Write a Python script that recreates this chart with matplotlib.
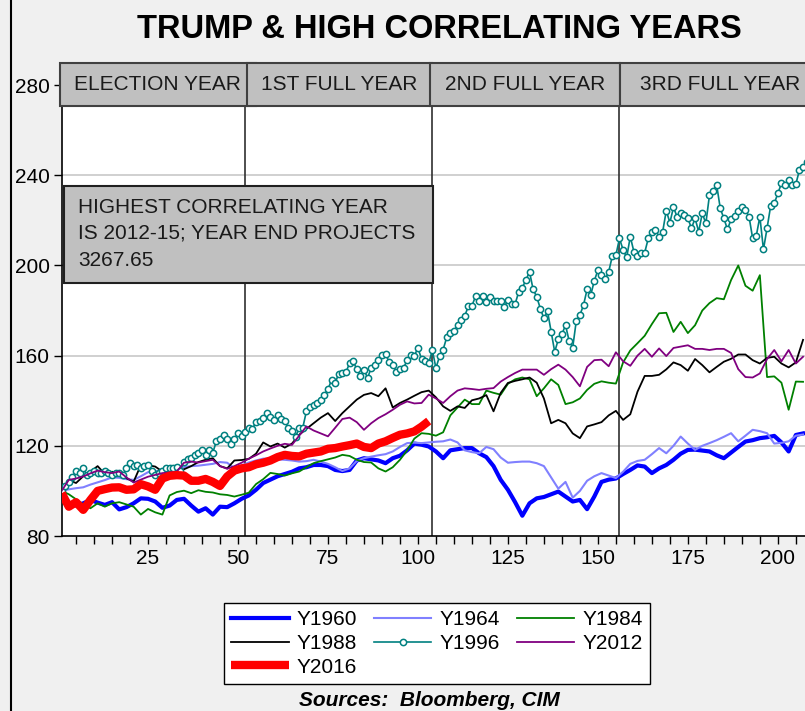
import matplotlib
matplotlib.use("Agg")
import matplotlib.pyplot as plt
from matplotlib.patches import Rectangle
from matplotlib.lines import Line2D
from matplotlib.ticker import MultipleLocator

plt.rcParams['font.family'] = ['Liberation Sans', 'DejaVu Sans']

# ---------------- data ----------------
weeks_2 = list(range(1, 209, 2))          # sampling every 2 weeks
weeks_1996 = list(range(1, 209))          # weekly for Y1996
weeks_2016 = list(range(1, 105, 2))

y1960 = [100, 94.5, 93.5, 94.5, 96, 94.8, 93.8, 95, 91.8, 92.8, 94.5, 96.7, 96.5, 95.3, 92.5, 93.5,
         96, 96.5, 93.5, 90.8, 92.3, 89.5, 93, 92.8, 94.5, 96.5, 98, 100.5, 103.5, 105, 106.5, 107.5,
         108.5, 110, 110.5, 111.5, 111.5, 111, 109.3, 108.8, 109.3, 113.5, 114.5, 114, 113.5, 112.3,
         114.5, 115.6, 118, 121, 120.5, 119.7, 117.5, 114.5, 118, 118.5, 119, 119, 116.7, 115, 111,
         104.9, 100.5, 95, 89, 94.5, 96.7, 97.3, 98.5, 99.7, 97.5, 95.3, 96, 91.9, 97.5, 104, 105,
         105.5, 107.5, 109.3, 111.3, 110.8, 107.9, 110, 111.5, 113.8, 116.5, 118.2, 118.3, 117.9,
         117.5, 115.8, 114.5, 117, 119.5, 121.9, 122.5, 123.4, 123.8, 124.4, 121.5, 117.5, 124.8, 125.5]

y1964 = [100, 100.7, 101.2, 101.6, 102.8, 103.8, 104.8, 106, 105.8, 105.2, 104.9, 106.5, 108.3, 108.8,
         109, 109.5, 110, 110.6, 111, 111.2, 111.6, 112, 112.8, 112.5, 110, 111.3, 112.6, 113.5, 114.3,
         114.3, 114, 113.8, 113.5, 113, 113.2, 113.8, 113, 112, 110.5, 108.8, 110, 113.3, 114.5, 115.2,
         115.8, 116.3, 117.5, 119.5, 121.2, 121.4, 121.2, 121.5, 121.8, 122, 122.8, 121.5, 118, 117.2,
         116.7, 119.5, 118.5, 114.8, 112.5, 112.8, 113, 113, 112.3, 111, 106, 101, 104, 97, 100, 104.5,
         106.5, 107.9, 106.8, 105.7, 108.5, 112, 113.3, 113.8, 116.3, 119, 116.7, 120, 124.1, 121,
         118.2, 120, 121.2, 122.5, 124, 125.6, 122, 124.5, 127.1, 126.5, 125.6, 121, 121.3, 122, 124.5, 125]

y1984 = [100, 98.5, 96.3, 94, 92.3, 94.5, 93, 94.5, 95, 94, 93, 89.5, 92, 90.5, 89.5, 98, 99.5, 100.1,
         99, 100.3, 99.6, 99.3, 98.5, 98.2, 97.5, 98.3, 99.2, 103, 105.2, 108, 107.5, 106.8, 107.8,
         108.6, 110.5, 112.3, 113.2, 114, 114.8, 116, 115.5, 113.8, 112.8, 112.6, 110, 108.6, 110.5,
         113.8, 118, 123.2, 125.6, 125.3, 124.5, 126, 133.5, 137, 140.5, 138.5, 138.5, 144.5, 143.5,
         142.7, 147.5, 149.5, 150.3, 149.5, 142, 145.5, 149.5, 147, 138.5, 139.3, 141, 144.8, 147.5,
         148.6, 148, 147.6, 157, 162.3, 165.5, 168.8, 174, 178.8, 179, 170.5, 175, 170, 173.5, 180,
         183.3, 185.5, 185, 193.5, 200, 191, 188.8, 195.7, 150.5, 150.8, 148, 136, 148.5, 148.4]

y1988 = [100, 104.8, 103.5, 106.5, 108.5, 111, 107.5, 108.5, 108, 105.6, 104.1, 111.4, 111.4, 110.8,
         108.6, 109.1, 109.4, 109.6, 111, 112.8, 113.8, 114.5, 111, 110, 113.5, 113.7, 114.2, 116.5,
         121.5, 119.7, 121, 119.2, 121, 124.9, 127.5, 130, 132.5, 134.5, 131, 134.5, 137.5, 140.5,
         142.6, 143.4, 142, 145.5, 137, 139, 140.5, 142.2, 143.8, 144.5, 141.5, 137.5, 135.5, 137.5,
         136.8, 140.2, 141, 142.5, 135.3, 143.5, 147.9, 148.8, 149.5, 150.3, 148, 141, 130, 131.5, 130,
         125.5, 123.4, 128.6, 129.5, 130.5, 133.5, 135.5, 131.5, 134, 144, 151, 151, 151.5, 153.9, 157,
         155.8, 153.3, 158.5, 155.8, 152.6, 155, 157.3, 158.6, 160.5, 160.5, 158, 156.5, 159, 159.5,
         156.5, 154.8, 157, 167]

y1996 = [100, 102, 104, 106, 109, 108, 110, 107, 108, 109, 108, 108, 109, 108, 107, 108, 108, 107, 110,
         112.5, 111, 111.5, 110, 111, 111.5, 109, 107, 108, 109, 110, 110, 110, 110.5, 109, 113, 114,
         114.5, 116, 117, 118, 116, 118, 117, 122, 123, 125, 123, 121, 123, 125.5, 124.5, 126, 128,
         127.5, 130.5, 131, 132.5, 134.5, 133, 131.5, 133.8, 132, 130.8, 128, 126.4, 124, 127.9, 128,
         135.3, 137, 138.2, 139, 140.4, 142.7, 145, 149.3, 147.9, 152, 152.3, 152.6, 156.7, 157.5, 154,
         150.8, 153.8, 150.1, 154.5, 156, 158.2, 160.5, 160.9, 157, 156, 152.6, 154, 154.5, 158, 160.4,
         160, 163.4, 158.5, 157.5, 156.7, 162.4, 154.5, 159.7, 162.7, 168.1, 170.1, 171, 173.5, 175.8,
         177.5, 182, 182, 186.4, 184.3, 186.4, 183.9, 186.1, 184.2, 184.2, 184.2, 181.4, 184.9, 182.9,
         182.9, 188.3, 190.2, 193.5, 197.2, 189.4, 186.1, 180.9, 176.5, 179.7, 170.6, 161.7, 167.2,
         169.5, 173.5, 166.6, 163.6, 175.5, 178, 182.4, 189.4, 186.8, 193.2, 197.9, 195.7, 193.8, 197.2,
         204.1, 204.6, 212, 206.9, 203.6, 212.8, 206.1, 204.2, 205.7, 205.7, 212, 215, 215.7, 212.8, 215,
         224.3, 219, 225.8, 221.6, 223.4, 222.4, 220.9, 216.5, 220.9, 215, 223.1, 218.7, 231.2, 233.2,
         235.7, 225.3, 220.9, 216, 220.4, 221.9, 224.3, 225.8, 224.6, 221.6, 212, 213.1, 221.6, 207.1,
         216.5, 226.4, 227.5, 232, 236.4, 235.7, 237.9, 235.7, 236.1, 242.3, 243.8, 246]

y2012 = [100, 104.9, 105.5, 106.4, 107.8, 109, 108.3, 107.9, 108.6, 106, 103.7, 105, 106.3, 107.1, 107.9,
         108.2, 108.6, 112.5, 113, 112.6, 113.2, 113.8, 111, 109.8, 111, 112.5, 114.3, 115.8, 117.5,
         118.8, 120, 120.9, 120.4, 124.5, 128.6, 126.8, 125.5, 124.2, 128, 131.9, 132.5, 130.5, 127.1,
         130, 132.3, 134, 136, 138.2, 139.7, 138.8, 139, 142.7, 141, 139, 142, 144.5, 145.5, 145.2,
         144.8, 145.3, 145.6, 148.5, 150.5, 152.3, 153.8, 153.8, 153.8, 151.5, 154, 156, 153.8, 150.5,
         146.4, 155, 158, 158.2, 155.3, 161.5, 157.5, 155.5, 160, 163, 159.5, 163.2, 159.8, 163.4, 164,
         164.6, 163, 163, 162.5, 163, 163, 161.2, 154, 150.5, 150.3, 152.1, 158.5, 162.5, 157.5, 162.5,
         156.5, 159.5]

y2016 = [99, 93, 95, 91.6, 96, 100, 100.8, 101.5, 101.6, 100.5, 100.7, 103, 102, 100.5, 105.5, 106.7,
         107, 106.8, 104.5, 104.5, 105.3, 104, 102.2, 106.4, 109, 110, 110.5, 111.8, 112.5, 113.5, 115,
         116, 115.5, 115.3, 116.5, 117, 117.5, 118.7, 119, 119.7, 120.3, 121, 119.5, 119, 121, 122,
         123.5, 124.9, 125.5, 126.4, 128.5, 131]

period_labels = ["ELECTION YEAR", "1ST FULL YEAR", "2ND FULL YEAR", "3RD FULL YEAR"]
period_bounds = [52, 104, 156]
note_lines = ["HIGHEST CORRELATING YEAR", "IS 2012-15; YEAR END PROJECTS", "3267.65"]
title = "TRUMP & HIGH CORRELATING YEARS"
source = "Sources:  Bloomberg, CIM"

# ---------------- figure ----------------
W, H = 805, 711
fig = plt.figure(figsize=(W / 100, H / 100), dpi=100, facecolor='#f0f0f0')
ax_left, ax_right, ax_bot, ax_top = 62, 816, 536, 63
ax = fig.add_axes([ax_left / W, 1 - ax_bot / H, (ax_right - ax_left) / W, (ax_bot - ax_top) / H])
ax.set_facecolor('white')
ax.set_xlim(1.1, 210.6)
ax.set_ylim(80, 289.8)

for s in ['top', 'right']:
    ax.spines[s].set_visible(False)
for s in ['left', 'bottom']:
    ax.spines[s].set_linewidth(1.2)
    ax.spines[s].set_color('black')

ax.set_yticks([80, 120, 160, 200, 240, 280])
ax.xaxis.set_major_locator(MultipleLocator(25))
ax.xaxis.set_minor_locator(MultipleLocator(5))
ax.set_xticks([25, 50, 75, 100, 125, 150, 175, 200])
ax.tick_params(axis='both', which='both', direction='out', length=6, width=1, labelsize=15, pad=3)
ax.tick_params(axis='x', which='minor', length=6)
for gy in [120, 160, 200, 240]:
    ax.axhline(gy, color='#c8c8c8', lw=1.2, zorder=0.5)

# series
ax.plot(weeks_2, y1960, color='#0000ff', lw=3.0, label='Y1960', zorder=3)
ax.plot(weeks_2, y1964, color='#8080ff', lw=1.5, label='Y1964', zorder=3)
ax.plot(weeks_2, y1984, color='#008000', lw=1.3, label='Y1984', zorder=3)
ax.plot(weeks_2, y1988, color='black', lw=1.3, label='Y1988', zorder=3)
ax.plot(weeks_1996, y1996, color='#008080', lw=1.2, marker='o', ms=4.5, mfc='white', mec='#008080',
        mew=1.1, label='Y1996', zorder=3)
ax.plot(weeks_2, y2012, color='#800080', lw=1.3, label='Y2012', zorder=3)
ax.plot(weeks_2016, y2016, color='#ff0000', lw=6, label='Y2016', zorder=3, solid_capstyle='butt')

# period separators
box_bottom = 270.7
for xb in period_bounds:
    ax.plot([xb, xb], [80, box_bottom], color='#303030', lw=1.2, zorder=2)

# period boxes
box_edges = [(0.6, 54.9), (52.5, 103.9), (103.3, 156.1), (156.1, 212)]
for (x0, x1), lab in zip(box_edges, period_labels):
    r = Rectangle((x0, box_bottom), x1 - x0, 289.6 - box_bottom, facecolor='#c0c0c0',
                  edgecolor='#404040', lw=1.5, clip_on=False, zorder=5)
    ax.add_patch(r)
    ax.text((x0 + x1) / 2, 280.3, lab, ha='center', va='center', fontsize=15, color='#1a1a1a',
            zorder=6, clip_on=False)

# annotation box
ax.add_patch(Rectangle((1.7, 192.2), 104.2 - 1.7, 235.2 - 192.2, facecolor='#c0c0c0',
                       edgecolor='#202020', lw=1.5, zorder=5))
for yy, line in zip([225.9, 214.3, 202.4], note_lines):
    ax.text(5.5, yy, line, ha='left', va='center', fontsize=15, color='#1a1a1a', zorder=6)

# title
fig.text(439 / W, 1 - 30 / H, title, ha='center', va='center', fontsize=23.5, fontweight='bold')

# legend
handles, labels = ax.get_legend_handles_labels()
order = [0, 3, 6, 1, 4, 2, 5]
leg = fig.legend([handles[i] for i in order], [labels[i] for i in order], ncol=3,
                 loc='center', bbox_to_anchor=(437 / W, 1 - 643.5 / H), frameon=True, fancybox=False,
                 edgecolor='black', facecolor='white', fontsize=15, handlelength=2.75,
                 columnspacing=0.8, labelspacing=0.22, borderpad=0.35, handletextpad=0.4)
leg.get_frame().set_linewidth(1.0)
leg.get_frame().set_alpha(1)

fig.text(429 / W, 1 - 700 / H, source, ha='center', va='center', fontsize=15,
         fontweight='bold', fontstyle='italic')

# left border
fig.add_artist(Line2D([10.5 / W, 10.5 / W], [0, 1], color='black', lw=1.5, transform=fig.transFigure))

fig.savefig('out.png', dpi=100, facecolor=fig.get_facecolor())
